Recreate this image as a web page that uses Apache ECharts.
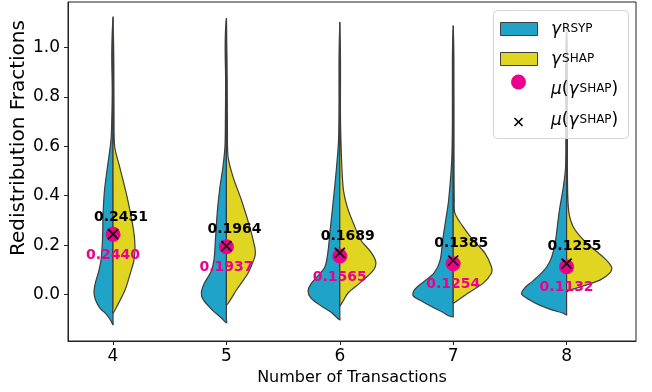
<!DOCTYPE html>
<html>
<head>
<meta charset="utf-8">
<script src="https://cdn.jsdelivr.net/npm/echarts@6/dist/echarts.min.js"></script>
<style>
  html, body { margin: 0; padding: 0; background: #fff; }
  #chart { width: 652px; height: 392px; }
</style>
</head>
<body>
<div id="chart"></div>
<script>
// Number of transactions per scenario (one split violin each)
const categories = [4, 5, 6, 7, 8];

// Kernel density profiles, top to bottom: [fraction, half-width in category units]
const rsypDensity = [
  [[1.123,0],[1.029,0.009],[0.948,0.011],[0.827,0.007],[0.706,0.011],[0.625,0.018],[0.516,0.049],[0.423,0.075],[0.322,0.088],[0.221,0.093],[0.140,0.106],[0.091,0.128],[0.051,0.154],[0.011,0.168],[-0.021,0.154],[-0.054,0.115],[-0.082,0.053],[-0.106,0.018],[-0.122,0]],
  [[1.117,0],[1.009,0.011],[0.867,0.007],[0.706,0.009],[0.597,0.013],[0.516,0.031],[0.435,0.057],[0.342,0.079],[0.221,0.097],[0.140,0.110],[0.092,0.137],[0.047,0.194],[0.007,0.221],[-0.021,0.203],[-0.062,0.124],[-0.094,0.044],[-0.114,0]],
  [[1.101,0],[0.948,0.007],[0.787,0.007],[0.625,0.011],[0.504,0.031],[0.383,0.057],[0.274,0.082],[0.168,0.106],[0.112,0.132],[0.076,0.194],[0.043,0.256],[0.015,0.280],[-0.013,0.256],[-0.042,0.176],[-0.070,0.079],[-0.090,0.031],[-0.102,0]],
  [[1.087,0],[0.948,0.007],[0.706,0.007],[0.544,0.013],[0.383,0.040],[0.302,0.066],[0.221,0.093],[0.140,0.115],[0.088,0.168],[0.051,0.265],[0.019,0.344],[-0.005,0.353],[-0.029,0.265],[-0.058,0.150],[-0.070,0.097],[-0.086,0.035],[-0.090,0]],
  [[1.078,0],[0.948,0.007],[0.706,0.007],[0.516,0.009],[0.435,0.029],[0.354,0.059],[0.302,0.075],[0.221,0.097],[0.152,0.132],[0.112,0.176],[0.080,0.238],[0.051,0.309],[0.027,0.371],[0.003,0.397],[-0.021,0.326],[-0.042,0.238],[-0.062,0.124],[-0.074,0.035],[-0.082,0]]
];
const shapDensity = [
  [[1.123,0],[0.948,0.007],[0.706,0.009],[0.597,0.015],[0.516,0.059],[0.395,0.124],[0.261,0.181],[0.193,0.194],[0.140,0.185],[0.088,0.154],[0.019,0.106],[-0.042,0.040],[-0.074,0]],
  [[1.117,0],[0.867,0.007],[0.665,0.009],[0.556,0.015],[0.475,0.059],[0.383,0.132],[0.274,0.206],[0.193,0.250],[0.172,0.255],[0.152,0.250],[0.088,0.191],[0.019,0.088],[-0.021,0.035],[-0.042,0]],
  [[1.101,0],[0.948,0.006],[0.678,0.007],[0.435,0.029],[0.354,0.066],[0.290,0.119],[0.221,0.185],[0.173,0.273],[0.132,0.318],[0.096,0.291],[0.047,0.176],[0.007,0.073],[-0.029,0.024],[-0.046,0]],
  [[1.087,0],[0.948,0.006],[0.585,0.007],[0.383,0.009],[0.330,0.015],[0.274,0.088],[0.221,0.176],[0.168,0.280],[0.112,0.338],[0.088,0.338],[0.047,0.265],[0.007,0.132],[-0.021,0.044],[-0.034,0]],
  [[1.078,0],[0.948,0.006],[0.625,0.007],[0.354,0.015],[0.274,0.059],[0.209,0.176],[0.152,0.324],[0.112,0.397],[0.088,0.382],[0.059,0.294],[0.031,0.117],[0.019,0.029],[0.011,0]]
];

// Mean redistribution fractions
const circleMeans = [0.2440, 0.1937, 0.1565, 0.1254, 0.1132];
const crossMeans = [0.2451, 0.1964, 0.1689, 0.1385, 0.1255];

const yTicks = [0, 0.2, 0.4, 0.6, 0.8, 1.0];

const BLUE = '#1fa3c8';
const YELLOW = '#e0d621';
const PINK = '#ec008c';
const EDGE = '#3c3c3c';
const FONT = 'DejaVu Sans';

function halfViolin(profiles, side, color) {
  return function (params, api) {
    const i = api.value(1);
    const cx = categories[i];
    const prof = profiles[i];
    const pts = prof.map(p => api.coord([cx + side * p[1], p[0]]));
    for (let k = prof.length - 2; k >= 1; k--) {
      pts.push(api.coord([cx, prof[k][0]]));
    }
    return {
      type: 'polygon',
      shape: { points: pts, smooth: 0.3 },
      style: { fill: color, stroke: EDGE, lineWidth: 1.2 }
    };
  };
}

const violinData = categories.map((c, i) => [c, i]);

const chart = echarts.init(document.getElementById('chart'), null, { renderer: 'canvas' });

// Rich-text styles for the legend entries (italic symbol, small superscript)
const legendRich = {
  m: { fontFamily: FONT, fontSize: 17, fontStyle: 'italic', lineHeight: 22, verticalAlign: 'middle', fill: '#000' },
  s: { fontFamily: FONT, fontSize: 12, lineHeight: 12, verticalAlign: 'middle', padding: [0, 0, 3, 1], fill: '#000' },
  p: { fontFamily: FONT, fontSize: 17, lineHeight: 22, verticalAlign: 'middle', fill: '#000' }
};
const legendText = (y, text) => ({
  type: 'text', x: 551, y: y, z: 101,
  style: { text: text, textVerticalAlign: 'middle', fill: '#000', rich: legendRich }
});

const option = {
  animation: false,
  grid: { left: 68, right: 16, top: 2, bottom: 51, containLabel: false, outerBoundsMode: 'none',
    show: true, borderColor: '#222', borderWidth: 1 },
  xAxis: {
    type: 'value', min: 3.603, max: 8.612,
    axisLine: { show: true, onZero: false, lineStyle: { color: '#222', width: 1 } },
    axisTick: { show: true, length: 4, lineStyle: { color: '#222' }, customValues: categories },
    axisLabel: { customValues: categories, fontSize: 17, color: '#000', margin: 7, fontFamily: FONT },
    splitLine: { show: false },
    name: 'Number of Transactions', nameLocation: 'middle', nameGap: 27,
    nameTextStyle: { fontSize: 16, color: '#000', fontFamily: FONT }
  },
  yAxis: {
    type: 'value', min: -0.187, max: 1.183,
    axisLine: { show: true, onZero: false, lineStyle: { color: '#222', width: 1 } },
    axisTick: { show: true, length: 4, lineStyle: { color: '#222' }, customValues: yTicks },
    axisLabel: { customValues: yTicks, fontSize: 17, color: '#000', margin: 8, fontFamily: FONT,
      formatter: v => v.toFixed(1) },
    splitLine: { show: false }
  },
  series: [
    { type: 'custom', name: 'RSYP', z: 2, data: violinData, encode: { x: 0 },
      renderItem: halfViolin(rsypDensity, -1, BLUE) },
    { type: 'custom', name: 'SHAP', z: 2, data: violinData, encode: { x: 0 },
      renderItem: halfViolin(shapDensity, 1, YELLOW) },
    { type: 'scatter', name: 'mean', z: 3,
      data: categories.map((c, i) => [c, circleMeans[i]]),
      symbol: 'circle', symbolSize: 15, itemStyle: { color: PINK, opacity: 1 },
      label: { show: true, position: 'inside', offset: [0, 21],
        formatter: p => p.value[1].toFixed(4),
        color: PINK, fontWeight: 'bold', fontSize: 14, fontFamily: FONT } },
    { type: 'scatter', name: 'cross', z: 4,
      data: categories.map((c, i) => [c, crossMeans[i]]),
      symbol: 'path://M0,0L10,10M10,0L0,10', symbolSize: 10,
      itemStyle: { color: 'none', borderColor: '#000', borderWidth: 1.6, opacity: 1 },
      label: { show: true, position: 'inside', offset: [8, -17],
        formatter: p => p.value[1].toFixed(4),
        color: '#000', fontWeight: 'bold', fontSize: 14, fontFamily: FONT } }
  ],
  graphic: [
    // y-axis title
    { type: 'text', x: 19, y: 138, rotation: Math.PI / 2, z: 50,
      style: { text: 'Redistribution Fractions', fontFamily: FONT, fontSize: 20, fill: '#000',
        textAlign: 'center', textVerticalAlign: 'middle' } },
    // legend
    { type: 'rect', z: 100, shape: { x: 493.5, y: 10.5, width: 135, height: 128, r: 4 },
      style: { fill: 'rgba(255,255,255,0.8)', stroke: '#d4d4d4', lineWidth: 1 } },
    { type: 'rect', z: 101, shape: { x: 500.5, y: 22.5, width: 37, height: 13 },
      style: { fill: BLUE, stroke: EDGE, lineWidth: 1 } },
    { type: 'rect', z: 101, shape: { x: 500.5, y: 52.5, width: 37, height: 13 },
      style: { fill: YELLOW, stroke: EDGE, lineWidth: 1 } },
    { type: 'circle', z: 101, shape: { cx: 518.5, cy: 82, r: 7.5 }, style: { fill: PINK } },
    { type: 'polyline', z: 101, shape: { points: [[514.5, 118], [522.5, 126]] }, style: { stroke: '#000', lineWidth: 1.6 } },
    { type: 'polyline', z: 101, shape: { points: [[522.5, 118], [514.5, 126]] }, style: { stroke: '#000', lineWidth: 1.6 } },
    legendText(30, '{m|γ}{s|RSYP}'),
    legendText(60, '{m|γ}{s|SHAP}'),
    legendText(90, '{m|μ}{p|(}{m|γ}{s|SHAP}{p|)}'),
    legendText(121, '{m|μ}{p|(}{m|γ}{s|SHAP}{p|)}')
  ]
};

chart.setOption(option);
</script>
</body>
</html>
